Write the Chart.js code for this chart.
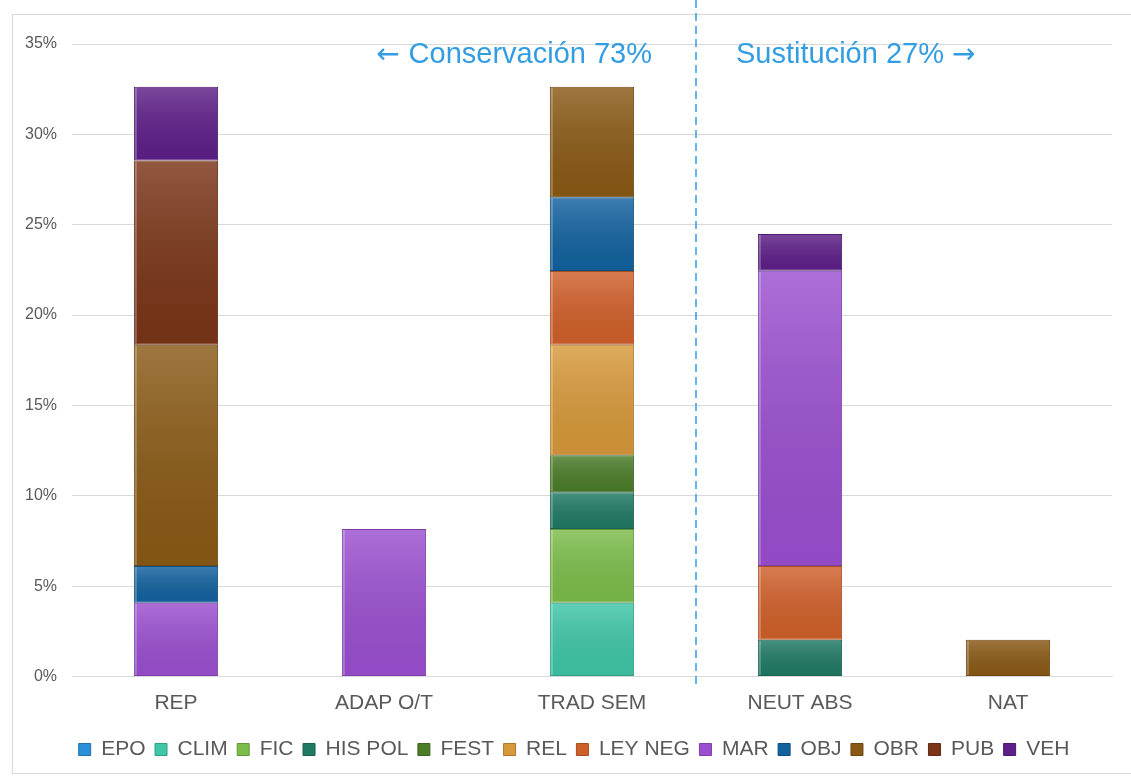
<!DOCTYPE html>
<html>
<head>
<meta charset="utf-8">
<script src="https://cdn.jsdelivr.net/npm/chart.js@4/dist/chart.umd.min.js"></script>
<style>
  html, body { margin: 0; padding: 0; background: #fff; }
  #wrap { position: relative; width: 1131px; height: 780px; overflow: hidden; }
  #frame { position: absolute; left: 12px; top: 14px; width: 1140px; height: 760px; border: 1px solid #d9d9d9; box-sizing: border-box; }
  canvas { position: absolute; left: 0; top: 0; }
</style>
</head>
<body>
<div id="wrap">
  <div id="frame"></div>
  <canvas id="chart" width="1131" height="780"></canvas>
</div>
<script>
// categories and values (percent of 49 cases)
const categories = ['REP', 'ADAP O/T', 'TRAD SEM', 'NEUT ABS', 'NAT'];

const EPO     = [0, 0, 0, 0, 0];
const CLIM    = [0, 0, 4.08, 0, 0];
const FIC     = [0, 0, 4.08, 0, 0];
const HIS_POL = [0, 0, 2.04, 2.04, 0];
const FEST    = [0, 0, 2.04, 0, 0];
const REL     = [0, 0, 6.12, 0, 0];
const LEY_NEG = [0, 0, 4.08, 4.08, 0];
const MAR     = [4.08, 8.16, 0, 16.33, 0];
const OBJ     = [2.04, 0, 4.08, 0, 0];
const OBR     = [12.24, 0, 6.12, 0, 2.04];
const PUB     = [10.20, 0, 0, 0, 0];
const VEH     = [4.08, 0, 0, 2.04, 0];

const yTicks = [0, 5, 10, 15, 20, 25, 30, 35];
const leftNote = ['\u2190 ', 'Conservación 73%'];
const rightNote = ['Sustitución 27% ', '\u2192'];

const COLORS = {
    EPO: '#2b8fda',
    CLIM: '#3ec6a6',
    FIC: '#7cbd4a',
    HIS_POL: '#1f7a64',
    FEST: '#4b7d29',
    REL: '#d8993a',
    LEY_NEG: '#d0602a',
    MAR: '#9b4fd0',
    OBJ: '#12629f',
    OBR: '#8a5a15',
    PUB: '#7a3517',
    VEH: '#5d1f88'
};
const NOTE_COLOR = '#339de4';
const FONT = '"Liberation Sans", Arial, sans-serif';
const TEXT_FONT = '29px ' + FONT;
const ARROW_FONT = '28px "DejaVu Sans", sans-serif';

function darker(hex, f) {
    const n = parseInt(hex.slice(1), 16);
    const r = Math.round(((n >> 16) & 255) * f);
    const g = Math.round(((n >> 8) & 255) * f);
    const b = Math.round((n & 255) * f);
    return `rgb(${r},${g},${b})`;
}

function ds(label, key, data) {
    return {
        label: label,
        data: data,
        backgroundColor: COLORS[key],
        borderColor: darker(COLORS[key], 0.8),
        borderWidth: 1,
        borderSkipped: false,
        barPercentage: 0.405,
        categoryPercentage: 1.0
    };
}

// soft highlight to mimic the office bevel look
const bevelPlugin = {
    id: 'bevel',
    afterDatasetsDraw(chart) {
        const ctx = chart.ctx;
        chart.data.datasets.forEach((d, i) => {
            const meta = chart.getDatasetMeta(i);
            meta.data.forEach((bar, j) => {
                if (!d.data[j]) return;
                const { x, y, base, width } = bar.getProps(['x', 'y', 'base', 'width'], true);
                const left = x - width / 2;
                const g = ctx.createLinearGradient(0, y, 0, base);
                g.addColorStop(0, 'rgba(255,255,255,0.18)');
                g.addColorStop(1, 'rgba(0,0,0,0.06)');
                ctx.save();
                ctx.fillStyle = g;
                ctx.fillRect(left + 1, y + 1, width - 2, base - y - 2);
                ctx.fillStyle = 'rgba(255,255,255,0.25)';
                ctx.fillRect(left + 1, y + 1, 2, base - y - 2);
                ctx.restore();
            });
        });
    }
};

// nudge the legend row a bit to the right, like the original
const legendShift = {
    id: 'legendShift',
    afterLayout(chart) {
        chart.legend.left += 18;
        chart.legend.right += 18;
    }
};

// draws text parts (arrow + words) in their own fonts, anchored left or right
function drawParts(ctx, parts, fonts, x, y, alignRight) {
    const widths = parts.map((p, i) => { ctx.font = fonts[i]; return ctx.measureText(p).width; });
    let cx = alignRight ? x - widths.reduce((a, b) => a + b, 0) : x;
    ctx.textAlign = 'left';
    parts.forEach((p, i) => {
        ctx.font = fonts[i];
        ctx.fillText(p, cx, y);
        cx += widths[i];
    });
}

const notePlugin = {
    id: 'notes',
    afterDraw(chart) {
        const ctx = chart.ctx;
        const xs = chart.scales.x;
        const lineX = (xs.getPixelForValue(2) + xs.getPixelForValue(3)) / 2;
        ctx.save();
        ctx.strokeStyle = NOTE_COLOR;
        ctx.lineWidth = 1.5;
        ctx.setLineDash([8, 5]);
        ctx.beginPath();
        ctx.moveTo(lineX, 0);
        ctx.lineTo(lineX, chart.chartArea.bottom + 11);
        ctx.stroke();
        ctx.setLineDash([]);
        ctx.fillStyle = NOTE_COLOR;
        ctx.textBaseline = 'alphabetic';
        const ty = chart.chartArea.top + 19;
        drawParts(ctx, leftNote, [ARROW_FONT, TEXT_FONT], lineX - 44, ty, true);
        drawParts(ctx, rightNote, [TEXT_FONT, ARROW_FONT], lineX + 40, ty, false);
        ctx.restore();
    }
};

new Chart(document.getElementById('chart'), {
    type: 'bar',
    data: {
        labels: categories,
        datasets: [
            ds('EPO', 'EPO', EPO),
            ds('CLIM', 'CLIM', CLIM),
            ds('FIC', 'FIC', FIC),
            ds('HIS POL', 'HIS_POL', HIS_POL),
            ds('FEST', 'FEST', FEST),
            ds('REL', 'REL', REL),
            ds('LEY NEG', 'LEY_NEG', LEY_NEG),
            ds('MAR', 'MAR', MAR),
            ds('OBJ', 'OBJ', OBJ),
            ds('OBR', 'OBR', OBR),
            ds('PUB', 'PUB', PUB),
            ds('VEH', 'VEH', VEH)
        ]
    },
    options: {
        responsive: false,
        animation: false,
        layout: {
            padding: { left: 0, right: 19, top: 44, bottom: 10 }
        },
        plugins: {
            legend: {
                position: 'bottom',
                labels: {
                    boxWidth: 12,
                    boxHeight: 12,
                    padding: 9.5,
                    color: '#595959',
                    font: { family: FONT, size: 21 }
                }
            },
            tooltip: { enabled: false }
        },
        scales: {
            x: {
                stacked: true,
                grid: { display: false },
                border: { color: '#d9d9d9' },
                ticks: {
                    color: '#595959',
                    padding: 6,
                    font: { family: FONT, size: 21 }
                },
                afterFit(scale) { scale.height = 53; }
            },
            y: {
                stacked: true,
                min: 0,
                max: 35,
                afterBuildTicks(scale) {
                    scale.ticks = yTicks.map(v => ({ value: v }));
                },
                grid: { color: '#d9d9d9', drawTicks: false },
                border: { display: false },
                ticks: {
                    color: '#595959',
                    padding: 15,
                    font: { family: FONT, size: 16 },
                    callback: v => v + '%'
                },
                afterFit(scale) { scale.width = 72; }
            }
        }
    },
    plugins: [bevelPlugin, legendShift, notePlugin]
});
</script>
</body>
</html>
